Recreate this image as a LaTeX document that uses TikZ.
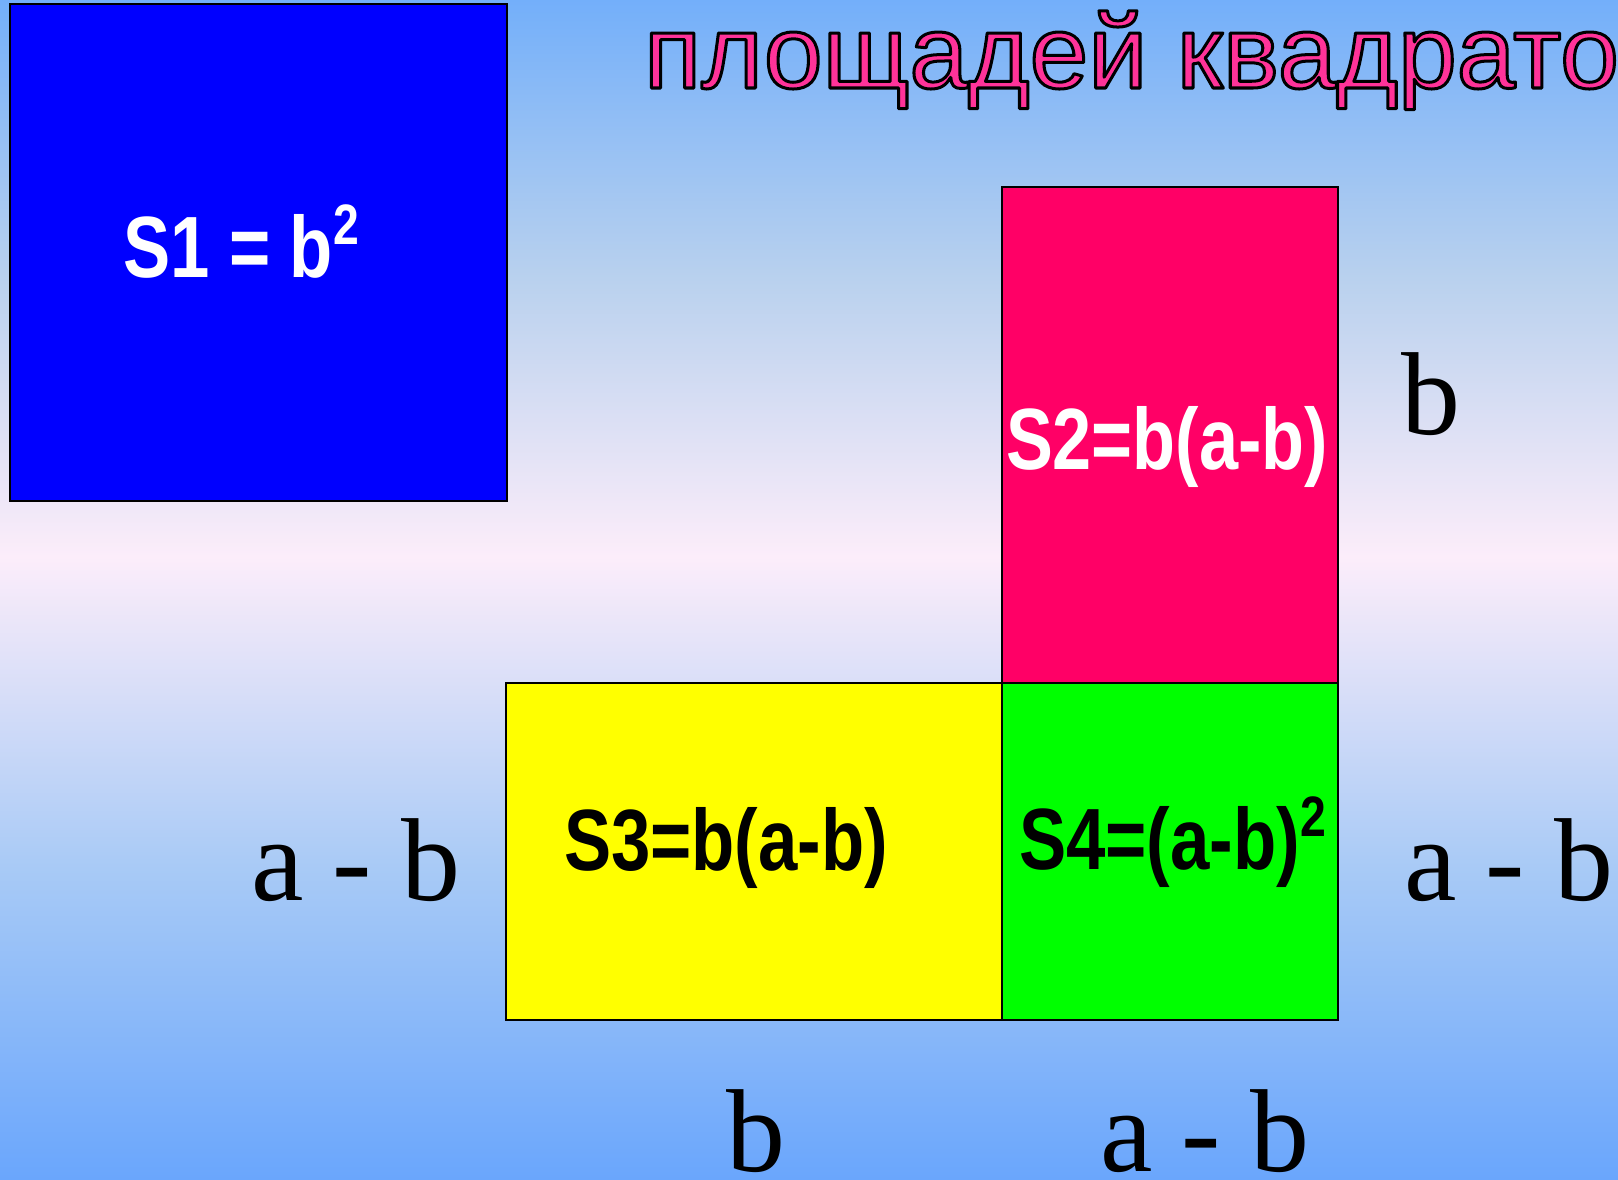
\documentclass[tikz,border=0pt]{standalone}
\usepackage{fontspec}
\usepackage{graphicx}
\usetikzlibrary{calc}
\setmainfont{Liberation Sans}
\newfontfamily\dimfont{Liberation Serif}
\newlength\fitw
\newcommand\fitto[2]{\settowidth\fitw{#2}\pgfmathsetmacro\fitsx{#1/\fitw}\scalebox{\fitsx}[1]{#2}}
\newcommand\outlined[1]{\special{pdf:literal direct 2 Tr 0 G 3.0 w 1 j}#1\special{pdf:literal direct 0 Tr}}
\definecolor{bgtop}{RGB}{115,175,250}
\definecolor{bgupmid}{RGB}{185,209,238}
\definecolor{bgwhite}{RGB}{252,237,250}
\definecolor{bglowmid}{RGB}{168,202,246}
\definecolor{bgbot}{RGB}{106,166,252}
\definecolor{sqblue}{RGB}{0,0,255}
\definecolor{sqpink}{RGB}{255,0,102}
\definecolor{sqyellow}{RGB}{255,255,0}
\definecolor{sqgreen}{RGB}{0,255,0}
\definecolor{titlepink}{RGB}{255,51,153}
\newcommand\areafont{\fontsize{87pt}{90pt}\selectfont\bfseries}
\newcommand\supfont{\fontsize{57pt}{57pt}\selectfont\bfseries}
\newcommand\sqtwo{\raisebox{33pt}{\supfont 2}}
\newcommand\titletext{\fontsize{104pt}{110pt}\selectfont площадей квадрато}
\begin{document}
\begin{tikzpicture}[x=1pt,y=-1pt,
  square/.style={draw=black,line width=1.5pt},
  lbl/.style={inner sep=0pt,outer sep=0pt,anchor=base west},
  dimlbl/.style={lbl,font=\dimfont\fontsize{118pt}{120pt}\selectfont,text=black}]
\useasboundingbox (0,0) rectangle (1618,1179);
% background
\shade[top color=bgtop,bottom color=bgwhite,middle color=bgupmid] (0,0) rectangle (1618,557);
\shade[top color=bgwhite,bottom color=bgbot,middle color=bglowmid] (0,557) rectangle (1618,1179);
% squares
\path[square,fill=sqblue] (10,4) rectangle (507,501);
\path[square,fill=sqyellow] (506,683) rectangle (1002,1020);
\path[square,fill=sqgreen] (1002,683) rectangle (1338,1020);
\path[square,fill=sqpink] (1002,187) rectangle (1338,683);
% title, pink with black outline
\node[lbl,text=titlepink] (title) at (644,88) {\fitto{975}{\outlined{\titletext}}};
% area labels
\node[lbl,text=white] (s1) at (123,277) {\fitto{236}{\areafont S1 = b\sqtwo}};
\node[lbl,text=white] (s2) at (1006,469) {\fitto{322}{\areafont S2=b(a-b)}};
\node[lbl,text=black] (s3) at (564,870) {\fitto{324}{\areafont S3=b(a-b)}};
\node[lbl,text=black] (s4) at (1019,869) {\fitto{307}{\areafont S4=(a-b)\sqtwo}};
% dimension labels
\node[dimlbl] (db) at (1401,434) {b};
\node[dimlbl] (dl) at (251,900) {a - b};
\node[dimlbl] (dr) at (1404,900) {a - b};
\node[dimlbl] (dbb) at (726,1171) {b};
\node[dimlbl] (dba) at (1100,1171) {a - b};
\end{tikzpicture}
\end{document}
